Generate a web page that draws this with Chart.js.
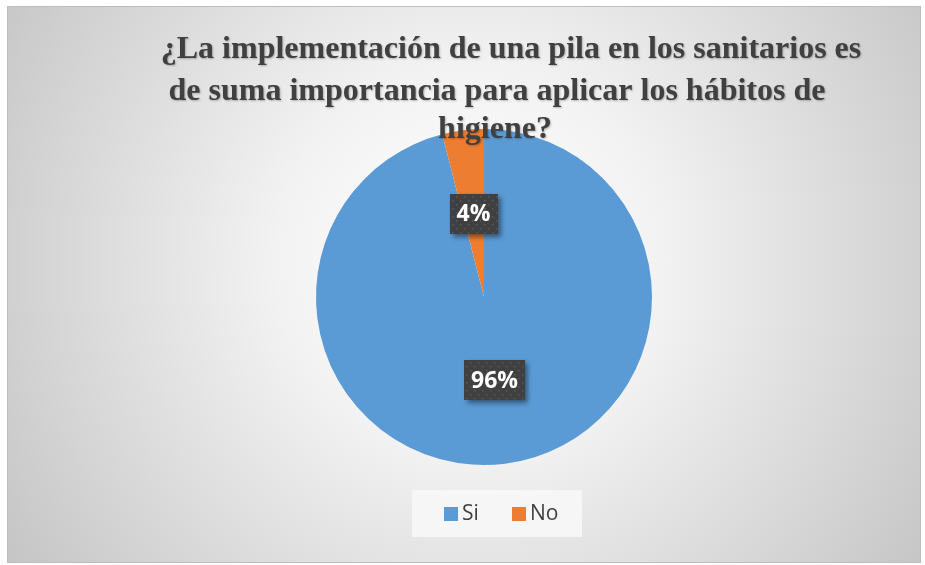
<!DOCTYPE html>
<html>
<head>
<meta charset="utf-8">
<script src="https://cdn.jsdelivr.net/npm/chart.js@4.4.1/dist/chart.umd.min.js"></script>
<style>
    html, body { margin: 0; padding: 0; background: #ffffff; }
    #wrap { width: 925px; height: 565px; position: relative; }
</style>
</head>
<body>
<div id="wrap"><canvas id="pieChart" width="925" height="565"></canvas></div>
<script>
var categories = ["Si", "No"];
var percentValues = [96, 4];
var sliceColors = ["#5B9BD5", "#ED7D31"];
var titleLines = [
    "¿La implementación de una pila en los sanitarios es",
    "de suma importancia para aplicar los hábitos de",
    "higiene?"
];

// background frame with the soft radial fill
var backgroundPlugin = {
    id: "frameBackground",
    beforeDraw: function (chart) {
        var ctx = chart.ctx;
        ctx.save();
        ctx.fillStyle = "#ffffff";
        ctx.fillRect(0, 0, chart.width, chart.height);
        var grad = ctx.createRadialGradient(470, 260, 20, 470, 260, 600);
        grad.addColorStop(0, "#ffffff");
        grad.addColorStop(0.3, "#f2f2f2");
        grad.addColorStop(1, "#bfbfbf");
        ctx.fillStyle = grad;
        ctx.fillRect(7, 6, 914, 557);
        ctx.strokeStyle = "#bdbdbd";
        ctx.lineWidth = 1;
        ctx.strokeRect(7.5, 6.5, 913, 556);
        ctx.restore();
    }
};

function drawPattern(ctx, x, y, w, h) {
    ctx.fillStyle = "#404040";
    ctx.fillRect(x, y, w, h);
    ctx.fillStyle = "#595959";
    for (var px = x + 2; px < x + w - 1; px += 4) {
        for (var py = y + 2; py < y + h - 1; py += 4) {
            if (((px - x) / 4 + (py - y) / 4) % 2 === 0) {
                ctx.fillRect(px, py, 1.5, 1.5);
            }
        }
    }
}

// dark boxes with the percentages
var labelPlugin = {
    id: "sliceLabels",
    afterDatasetsDraw: function (chart) {
        var ctx = chart.ctx;
        var meta = chart.getDatasetMeta(0);
        ctx.save();
        ctx.font = "bold 23px 'Open Sans', 'Liberation Sans', sans-serif";
        ctx.textAlign = "center";
        ctx.textBaseline = "middle";
        meta.data.forEach(function (arc, i) {
            var pos = arc.tooltipPosition();
            var text = percentValues[i] + "%";
            var w = ctx.measureText(text).width + 14;
            var h = 40;
            var x = Math.round(pos.x - w / 2);
            var y = Math.round(pos.y - h / 2);
            ctx.save();
            ctx.shadowColor = "rgba(0,0,0,0.45)";
            ctx.shadowBlur = 5;
            ctx.shadowOffsetX = 3;
            ctx.shadowOffsetY = 3;
            ctx.fillStyle = "#404040";
            ctx.fillRect(x, y, w, h);
            ctx.restore();
            drawPattern(ctx, x, y, w, h);
            ctx.fillStyle = "#ffffff";
            ctx.fillText(text, pos.x, pos.y + 1);
        });
        ctx.restore();
    }
};

// title is drawn over the pie like in the original sheet
var titlePlugin = {
    id: "sheetTitle",
    afterDraw: function (chart) {
        var ctx = chart.ctx;
        var centers = [511, 497, 495];
        var baselines = [58, 100, 138];
        ctx.save();
        ctx.font = "bold 32px 'Liberation Serif', 'Times New Roman', serif";
        ctx.textAlign = "center";
        ctx.textBaseline = "alphabetic";
        ctx.shadowColor = "rgba(0,0,0,0.25)";
        ctx.shadowBlur = 2;
        ctx.shadowOffsetX = 1;
        ctx.shadowOffsetY = 1;
        ctx.fillStyle = "#404040";
        titleLines.forEach(function (line, i) {
            ctx.fillText(line, centers[i], baselines[i]);
        });
        ctx.restore();
    }
};

var legendPlugin = {
    id: "boxLegend",
    afterDraw: function (chart) {
        var ctx = chart.ctx;
        ctx.save();
        ctx.fillStyle = "rgba(248,248,248,0.85)";
        ctx.fillRect(412, 490, 170, 47);
        ctx.font = "21px 'Open Sans', 'Liberation Sans', sans-serif";
        ctx.textBaseline = "middle";
        var xs = [444, 512];
        categories.forEach(function (name, i) {
            ctx.fillStyle = sliceColors[i];
            ctx.fillRect(xs[i], 507, 14, 14);
            ctx.fillStyle = "#404040";
            ctx.fillText(name, xs[i] + 18, 514);
        });
        ctx.restore();
    }
};

new Chart(document.getElementById("pieChart"), {
    type: "pie",
    data: {
        labels: categories,
        datasets: [{
            data: percentValues,
            backgroundColor: sliceColors,
            borderWidth: 0
        }]
    },
    plugins: [backgroundPlugin, labelPlugin, titlePlugin, legendPlugin],
    options: {
        responsive: false,
        animation: false,
        layout: {
            padding: {left: 316, right: 273, top: 129, bottom: 100}
        },
        plugins: {
            legend: {display: false},
            title: {display: false},
            tooltip: {enabled: false}
        }
    }
});
</script>
</body>
</html>
